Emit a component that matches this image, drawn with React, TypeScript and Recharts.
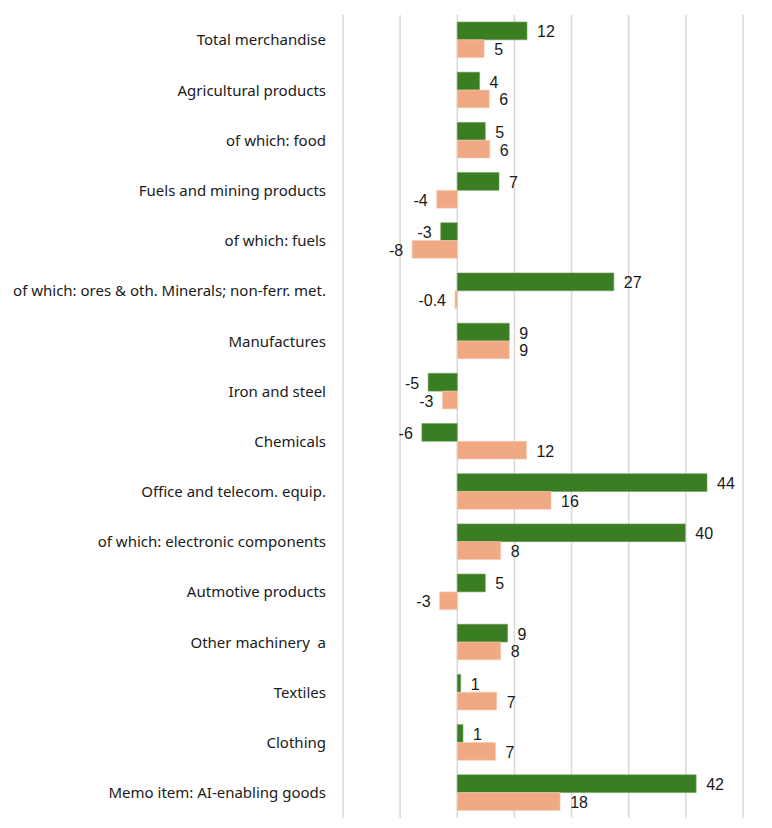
import React from "react"
import { BarChart, Bar, XAxis, YAxis, CartesianGrid, LabelList } from "recharts"

const categories = [
  "Total merchandise",
  "Agricultural products",
  "of which: food",
  "Fuels and mining products",
  "of which: fuels",
  "of which: ores & oth. Minerals; non-ferr. met.",
  "Manufactures",
  "Iron and steel",
  "Chemicals",
  "Office and telecom. equip.",
  "of which: electronic components",
  "Autmotive products",
  "Other machinery\u00a0 a",
  "Textiles",
  "Clothing",
  "Memo item: AI-enabling goods",
]

const greenValues = [12.2, 3.9, 4.9, 7.3, -2.9, 27.4, 9.1, -5.1, -6.2, 43.7, 39.9, 4.9, 8.8, 0.6, 1.0, 41.8]
const orangeValues = [4.7, 5.6, 5.7, -3.6, -7.9, -0.4, 9.1, -2.6, 12.1, 16.4, 7.6, -3.1, 7.6, 6.9, 6.7, 18.0]

const xTicks = [-20, -10, 0, 10, 20, 30, 40, 50]

const data = categories.map((name, i) => ({
  name,
  green: greenValues[i],
  orange: orangeValues[i],
}))

const fmt = (v: number) => (Math.abs(v) < 0.5 ? v.toFixed(1) : String(Math.round(v)))

const ValueLabel = (props: any) => {
  const { x, y, width, height, value } = props
  const end = x + width
  const neg = value < 0
  return (
    <text
      x={neg ? end - 9 : end + 10}
      y={y + height / 2 + 1}
      textAnchor={neg ? "end" : "start"}
      dominantBaseline="central"
      fontFamily="'Liberation Sans', Arial, sans-serif"
      fontSize={16}
      fill="#1a1a1a"
    >
      {fmt(value)}
    </text>
  )
}

export default function App() {
  return (
    <div style={{ position: "absolute", left: 0, top: 0, width: 772, height: 828, background: "#fff" }}>
      <BarChart
        width={772}
        height={828}
        data={data}
        layout="vertical"
        margin={{ top: 15, right: 29, bottom: 10, left: 0 }}
        barGap={0}
        barSize={17.8}
      >
        <CartesianGrid horizontal={false} stroke="#d9d9d9" strokeWidth={1.5} />
        <XAxis
          type="number"
          domain={[-20, 50]}
          ticks={xTicks}
          tick={() => <g />}
          axisLine={false}
          tickLine={false}
          height={0}
        />
        <YAxis
          type="category"
          dataKey="name"
          width={343}
          axisLine={false}
          tickLine={false}
          tickMargin={11}
          interval={0}
          tick={{ fontFamily: "'Noto Sans', sans-serif", fontSize: 15, fill: "#1a1a1a" }}
        />
        <Bar dataKey="green" fill="#3b7d23" stroke="#6fa05a" strokeWidth={0.6} isAnimationActive={false}>
          <LabelList dataKey="green" content={<ValueLabel />} />
        </Bar>
        <Bar dataKey="orange" fill="#f1a983" stroke="#f6cdb6" strokeWidth={0.6} isAnimationActive={false}>
          <LabelList dataKey="orange" content={<ValueLabel />} />
        </Bar>
      </BarChart>
    </div>
  )
}
